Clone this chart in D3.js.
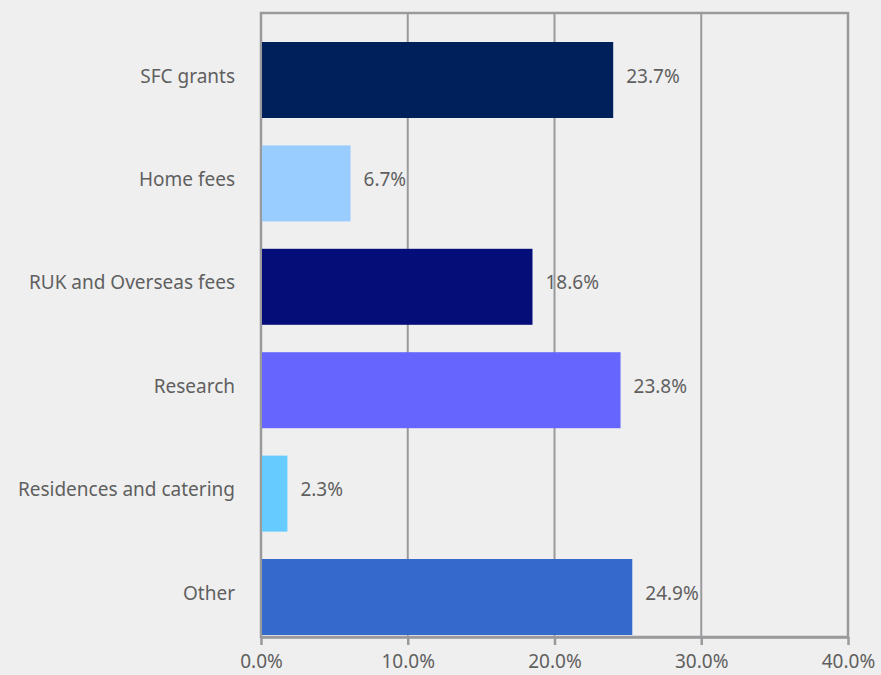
<!DOCTYPE html>
<html>
<head>
<meta charset="utf-8">
<script src="https://cdn.jsdelivr.net/npm/d3@7"></script>
<style>
	html, body { margin: 0; padding: 0; background: #efefef; }
	svg { display: block; }
	text { font-family: "Noto Sans", sans-serif; fill: #5f5f5f; }
</style>
</head>
<body>
<svg id="chart"></svg>
<script>
// income categories, top to bottom
var categories = ["SFC grants", "Home fees", "RUK and Overseas fees", "Research", "Residences and catering", "Other"];
// bar lengths as drawn (percent)
var shares = [24.0, 6.1, 18.5, 24.5, 1.8, 25.3];
// data labels as printed next to the bars
var shareLabels = ["23.7%", "6.7%", "18.6%", "23.8%", "2.3%", "24.9%"];
var barColors = ["#00205b", "#99ccff", "#040d78", "#6666ff", "#66ccff", "#3569cb"];
var xTicks = [0, 10, 20, 30, 40];

(function(){
	var w = 881, h = 675;
	var left = 261, right = 848, top = 13, bottom = 637;
	var fontSize = "19px";

	var svg = d3.select("#chart")
		.attr("width", w)
		.attr("height", h);

	var xscale = d3.scaleLinear()
		.domain([0, 40])
		.range([left, right]);

	var yscale = d3.scaleBand()
		.domain(categories)
		.range([42, 635])
		.paddingInner(0.265)
		.paddingOuter(0);

	// plot frame
	svg.append("rect")
		.attr("x", left)
		.attr("y", top)
		.attr("width", right - left)
		.attr("height", bottom - top)
		.attr("fill", "none")
		.attr("stroke", "#9a9a9c")
		.attr("stroke-width", 2.5);

	// vertical grid
	svg.append("g").selectAll("line")
		.data(xTicks.slice(1, -1))
		.enter().append("line")
			.attr("x1", function(d){ return xscale(d); })
			.attr("x2", function(d){ return xscale(d); })
			.attr("y1", top)
			.attr("y2", bottom)
			.attr("stroke", "#9a9a9c")
			.attr("stroke-width", 2);

	// x axis
	var xaxis = d3.axisBottom(xscale)
		.tickValues(xTicks)
		.tickSize(8)
		.tickSizeOuter(0)
		.tickPadding(10)
		.tickFormat(function(d){ return d3.format(".1f")(d) + "%"; });

	var gX = svg.append("g")
		.attr("transform", "translate(0," + bottom + ")")
		.call(xaxis);
	gX.select(".domain")
		.attr("stroke", "#9a9a9c")
		.attr("stroke-width", 2.5);
	gX.selectAll(".tick line")
		.attr("stroke", "#9a9a9c")
		.attr("stroke-width", 2.5);
	gX.selectAll(".tick text")
		.style("font-family", "'Noto Sans', sans-serif")
		.style("font-size", fontSize)
		.attr("fill", "#5f5f5f");

	// bars
	svg.append("g").selectAll("rect")
		.data(categories)
		.enter().append("rect")
			.attr("x", xscale(0) + 1)
			.attr("y", function(d){ return yscale(d); })
			.attr("width", function(d, i){ return xscale(shares[i]) - xscale(0) - 1; })
			.attr("height", yscale.bandwidth())
			.attr("fill", function(d, i){ return barColors[i]; });

	// category labels
	svg.append("g").selectAll("text")
		.data(categories)
		.enter().append("text")
			.attr("x", left - 26)
			.attr("y", function(d){ return yscale(d) + yscale.bandwidth() / 2 - 4; })
			.attr("dy", "0.35em")
			.attr("text-anchor", "end")
			.style("font-size", fontSize)
			.text(function(d){ return d; });

	// value labels
	svg.append("g").selectAll("text")
		.data(categories)
		.enter().append("text")
			.attr("x", function(d, i){ return xscale(shares[i]) + 13; })
			.attr("y", function(d){ return yscale(d) + yscale.bandwidth() / 2 - 4; })
			.attr("dy", "0.35em")
			.style("font-size", fontSize)
			.text(function(d, i){ return shareLabels[i]; });
})();
</script>
</body>
</html>
